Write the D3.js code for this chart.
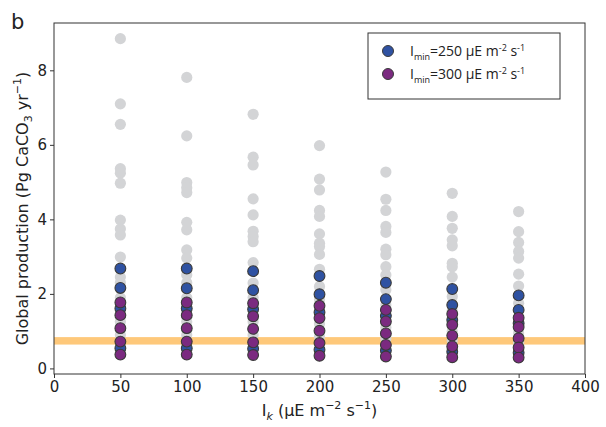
<!DOCTYPE html>
<html>
<head>
<meta charset="utf-8">
<script src="https://cdn.jsdelivr.net/npm/d3@7"></script>
<style>
  body { margin: 0; background: #fff; }
  text { font-family: "DejaVu Sans", sans-serif; fill: #222; }
  .legend text { font-family: "Open Sans", sans-serif; }
</style>
</head>
<body>
<div id="chart"></div>
<script>
// Ik columns
const ikValues = [50, 100, 150, 200, 250, 300, 350];

// gray cloud (all runs), one list per Ik column
const grayValues = [
  [8.85, 7.1, 6.55, 5.36, 5.24, 4.97, 3.98, 3.74, 3.58, 2.99, 2.45, 2.3, 1.9, 1.25, 0.9],
  [7.81, 6.24, 4.99, 4.85, 4.72, 3.92, 3.72, 3.18, 2.96, 2.51, 2.3, 1.9, 1.25, 0.9],
  [6.82, 5.67, 5.46, 4.55, 4.12, 3.68, 3.54, 3.40, 2.84, 2.29, 1.9, 1.25, 0.9],
  [5.98, 5.08, 4.79, 4.24, 4.08, 3.61, 3.36, 3.27, 3.06, 2.66, 2.20, 1.85, 1.2, 0.85],
  [5.27, 4.54, 4.24, 3.81, 3.65, 3.20, 3.05, 2.73, 2.51, 2.11, 1.7, 1.1, 0.8],
  [4.70, 4.08, 3.76, 3.45, 3.29, 2.82, 2.73, 2.45, 1.93, 1.55, 1.0, 0.75],
  [4.21, 3.67, 3.38, 3.14, 2.96, 2.53, 2.21, 1.75, 0.95, 0.7]
];

// Imin = 250 µE m-2 s-1
const blueValues = [
  [2.68, 2.16, 1.61, 0.54],
  [2.68, 2.15, 1.61, 0.54],
  [2.61, 2.10, 1.59, 0.53],
  [2.48, 1.99, 1.51, 0.50],
  [2.30, 1.86, 1.41, 0.48],
  [2.13, 1.70, 1.30, 0.45],
  [1.96, 1.57, 1.21, 0.42]
];

// Imin = 300 µE m-2 s-1
const purpleValues = [
  [1.77, 1.43, 1.08, 0.72, 0.37],
  [1.77, 1.43, 1.08, 0.72, 0.37],
  [1.75, 1.40, 1.06, 0.70, 0.36],
  [1.68, 1.35, 1.01, 0.68, 0.34],
  [1.57, 1.26, 0.94, 0.63, 0.32],
  [1.46, 1.17, 0.88, 0.59, 0.30],
  [1.36, 1.11, 0.81, 0.56, 0.29]
];

const xTicks = [0, 50, 100, 150, 200, 250, 300, 350, 400];
const yTicks = [0, 2, 4, 6, 8];
const bandValue = 0.74;
const bandHalf = 0.1;

const W = 606, H = 427;
const margin = { top: 23, right: 21, bottom: 53, left: 54 };

const svg = d3.select("#chart").append("svg")
  .attr("width", W).attr("height", H);

const x = d3.scaleLinear().domain([0, 400]).range([margin.left, W - margin.right]);
const y = d3.scaleLinear().domain([-0.15, 9.27]).range([H - margin.bottom, margin.top]);

// orange band
svg.append("rect")
  .attr("x", x(0)).attr("width", x(400) - x(0))
  .attr("y", y(bandValue + bandHalf))
  .attr("height", y(bandValue - bandHalf) - y(bandValue + bandHalf))
  .attr("fill", "#fec87a");

// flatten to points
function flat(arr) {
  const out = [];
  arr.forEach((vals, i) => vals.forEach(v => out.push({ ik: ikValues[i], v: v })));
  return out;
}

svg.append("g").selectAll("circle")
  .data(flat(grayValues)).enter().append("circle")
  .attr("cx", d => x(d.ik)).attr("cy", d => y(d.v)).attr("r", 5.6)
  .attr("fill", "#d3d4d6");

svg.append("g").selectAll("circle")
  .data(flat(blueValues)).enter().append("circle")
  .attr("cx", d => x(d.ik)).attr("cy", d => y(d.v)).attr("r", 5.4)
  .attr("fill", "#2f52a2").attr("stroke", "#3a3a3a").attr("stroke-width", 1.1);

svg.append("g").selectAll("circle")
  .data(flat(purpleValues)).enter().append("circle")
  .attr("cx", d => x(d.ik)).attr("cy", d => y(d.v)).attr("r", 5.4)
  .attr("fill", "#7b2a80").attr("stroke", "#3a3a3a").attr("stroke-width", 1.1);

// frame
svg.append("rect")
  .attr("x", x(0)).attr("y", margin.top)
  .attr("width", x(400) - x(0)).attr("height", y(-0.15) - margin.top)
  .attr("fill", "none").attr("stroke", "#333").attr("stroke-width", 1);

// axes
const xAxis = svg.append("g")
  .attr("transform", `translate(0,${H - margin.bottom})`)
  .call(d3.axisBottom(x).tickValues(xTicks).tickSize(4).tickPadding(3));
const yAxis = svg.append("g")
  .attr("transform", `translate(${margin.left},0)`)
  .call(d3.axisLeft(y).tickValues(yTicks).tickSize(4).tickPadding(3));
[xAxis, yAxis].forEach(a => {
  a.select(".domain").remove();
  a.selectAll("line").attr("stroke", "#333");
  a.selectAll("text").style("font-family", "DejaVu Sans").style("font-size", "15px").attr("fill", "#222");
});

// panel letter
svg.append("text").attr("x", 11).attr("y", 29)
  .style("font-size", "21px").text("b");

// y label
const yl = svg.append("text")
  .attr("transform", `translate(28,${(margin.top + H - margin.bottom) / 2 + 10}) rotate(-90)`)
  .attr("text-anchor", "middle")
  .style("font-size", "16px");
yl.append("tspan").text("Global production (Pg CaCO");
yl.append("tspan").attr("dy", 4).style("font-size", "11px").text("3");
yl.append("tspan").attr("dy", -4).text(" yr");
yl.append("tspan").attr("dy", -7).style("font-size", "11px").text("\u22121");
yl.append("tspan").attr("dy", 7).text(")");

// x label
const xl = svg.append("text")
  .attr("x", (x(0) + x(400)) / 2).attr("y", 416)
  .attr("text-anchor", "middle")
  .style("font-size", "16px");
xl.append("tspan").text("I");
xl.append("tspan").attr("dy", 4).style("font-size", "11px").style("font-style", "italic").text("k");
xl.append("tspan").attr("dy", -4).text(" (\u00b5E m");
xl.append("tspan").attr("dy", -7).style("font-size", "11px").text("\u22122");
xl.append("tspan").attr("dy", 7).text(" s");
xl.append("tspan").attr("dy", -7).style("font-size", "11px").text("\u22121");
xl.append("tspan").attr("dy", 7).text(")");

// legend
const legendItems = [
  { label: "250", fill: "#2f52a2" },
  { label: "300", fill: "#7b2a80" }
];
const lg = svg.append("g").attr("class", "legend");
lg.append("rect").attr("x", 368).attr("y", 33).attr("width", 192).attr("height", 66)
  .attr("fill", "#fff").attr("stroke", "#333").attr("stroke-width", 1);
legendItems.forEach((d, i) => {
  const cy = 51 + i * 23;
  lg.append("circle").attr("cx", 388).attr("cy", cy).attr("r", 5.5)
    .attr("fill", d.fill).attr("stroke", "#3a3a3a").attr("stroke-width", 1);
  const t = lg.append("text").attr("x", 410).attr("y", cy + 5).style("font-size", "14px");
  t.append("tspan").text("I");
  t.append("tspan").attr("dy", 4).style("font-size", "9px").text("min");
  t.append("tspan").attr("dy", -4).text("=" + d.label + " \u00b5E m");
  t.append("tspan").attr("dy", -5).style("font-size", "9px").text("-2");
  t.append("tspan").attr("dy", 5).text(" s");
  t.append("tspan").attr("dy", -5).style("font-size", "9px").text("-1");
});
</script>
</body>
</html>
